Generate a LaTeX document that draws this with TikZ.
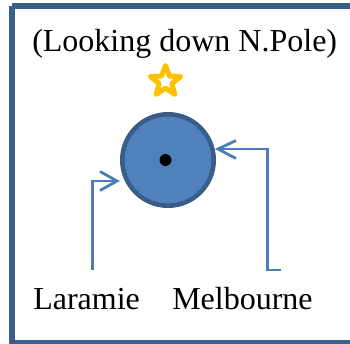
\documentclass[tikz,border=0pt]{standalone}
\usepackage{fontspec}
\setmainfont{Liberation Serif}
\usetikzlibrary{shapes.geometric}
\definecolor{frameblue}{HTML}{3A5F8B}
\definecolor{globefill}{HTML}{4F81BD}
\definecolor{globeedge}{HTML}{385D8A}
\definecolor{arrowblue}{HTML}{4A7EBB}
\definecolor{stargold}{HTML}{FFC000}
\tikzset{
  label/.style={font=\fontsize{24}{28}\selectfont, inner sep=0pt, anchor=base west},
  pointer/.style={draw=arrowblue, line width=2.8pt*0.75, line join=miter},
  vhead/.style={draw=arrowblue, line width=2.8pt*0.75, line cap=butt, line join=miter},
}
\begin{document}
\begin{tikzpicture}[x=0.75pt,y=-0.75pt]
  \useasboundingbox (0,0) rectangle (350,343);
  % frame, partly running off the right and bottom
  \begin{scope}
    \clip (0,0) rectangle (350,343);
    \draw[frameblue, line width=4.5pt] (12,6) -- (12,342.5) -- (360,342.5);
    \draw[frameblue, line width=4.5pt] (12,6) -- (360,6);
  \end{scope}

  % title
  \node[label] (title) at (32,51) {(Looking down N.Pole)};

  % pole star
  \node[star, star points=5, star point ratio=2.4, minimum size=32pt*0.75,
        draw=stargold, fill=white, line width=5pt*0.75, line join=round, inner sep=0pt]
        (polestar) at (165.5,81.5) {};

  % globe seen from above, with the pole
  \node[circle, draw=globeedge, fill=globefill, line width=4.5pt*0.75,
        minimum size=91.5pt*0.75, inner sep=0pt] (globe) at (168,160) {};
  \node[circle, fill=black, minimum size=12pt*0.75, inner sep=0pt] (pole) at (165.5,160) {};

  % station labels
  \node[label] (laramie) at (33,309) {Laramie};
  \node[label] (melbourne) at (172,309) {Melbourne};

  % Laramie pointer
  \coordinate (lfoot) at (92.5,270);
  \coordinate (lbend) at (92.5,181);
  \coordinate (ltip) at (117,181);
  \draw[pointer] (lfoot) -- (lbend) -- (ltip);
  \draw[vhead] ([shift={(-17,-9.5)}]ltip) -- (ltip) -- ([shift={(-17,9.5)}]ltip);

  % Melbourne pointer
  \coordinate (rfoot) at (281,270);
  \coordinate (rcorner) at (267.5,270);
  \coordinate (rbend) at (267.5,149);
  \coordinate (rtip) at (218,149);
  \draw[pointer] (rfoot) -- (rcorner) -- (rbend) -- (rtip);
  \draw[vhead] ([shift={(18,-8.5)}]rtip) -- (rtip) -- ([shift={(18,9.5)}]rtip);
\end{tikzpicture}
\end{document}
